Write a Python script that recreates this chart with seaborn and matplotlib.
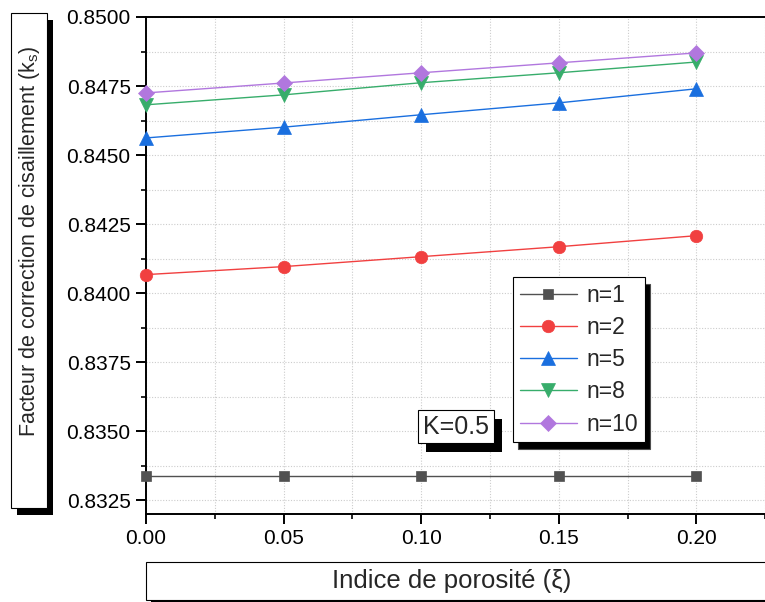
import matplotlib
matplotlib.use("Agg")
import matplotlib.pyplot as plt
from matplotlib.patches import Rectangle
from matplotlib.ticker import MultipleLocator, FormatStrFormatter
import seaborn as sns
import pandas as pd

# ---- data ----
xi = [0.00, 0.05, 0.10, 0.15, 0.20]
ks_n1 = [0.83337, 0.83337, 0.83337, 0.83337, 0.83337]
ks_n2 = [0.84067, 0.84096, 0.84132, 0.84168, 0.84208]
ks_n5 = [0.84562, 0.84601, 0.84646, 0.84689, 0.84740]
ks_n8 = [0.84682, 0.84718, 0.84762, 0.84798, 0.84837]
ks_n10 = [0.84725, 0.84761, 0.84798, 0.84834, 0.84870]
labels = ["n=1", "n=2", "n=5", "n=8", "n=10"]
series = [ks_n1, ks_n2, ks_n5, ks_n8, ks_n10]
colors = ["#515151", "#F14040", "#1A6FDF", "#37AD6B", "#B177DE"]
markers = ["s", "o", "^", "v", "D"]
msizes = [7, 9, 9.5, 9.5, 8]

df = pd.concat([pd.DataFrame({"xi": xi, "ks": s, "n": lab}) for s, lab in zip(series, labels)],
               ignore_index=True)

sns.set_style("white")
plt.rcParams["font.family"] = ["Liberation Sans", "DejaVu Sans"]
plt.rcParams["mathtext.default"] = "regular"

fig = plt.figure(figsize=(7.65, 6.02), dpi=100)
W, H = 765, 602
ax = fig.add_axes([146 / W, (H - 514) / H, (W - 146) / W + 0.002, (514 - 17) / H])

for lab, col, mk, ms in zip(labels, colors, markers, msizes):
    sub = df[df["n"] == lab]
    sns.lineplot(data=sub, x="xi", y="ks", ax=ax, color=col, marker=mk, markersize=ms,
                 markeredgecolor=col, markeredgewidth=0.5, linewidth=1.0, label=lab,
                 clip_on=False, zorder=3)

ax.set_xlim(0, 0.2255)
ax.set_ylim(0.8320, 0.8500)
ax.xaxis.set_major_locator(MultipleLocator(0.05))
ax.xaxis.set_minor_locator(MultipleLocator(0.025))
ax.yaxis.set_major_locator(MultipleLocator(0.0025))
ax.yaxis.set_minor_locator(MultipleLocator(0.00125))
ax.xaxis.set_major_formatter(FormatStrFormatter("%.2f"))
ax.yaxis.set_major_formatter(FormatStrFormatter("%.4f"))
ax.grid(True, which="both", linestyle=(0, (1, 1.5)), color="#cccccc", linewidth=0.8)
ax.tick_params(which="major", direction="out", length=7, width=1.4, labelsize=15, pad=4,
               left=True, bottom=True, colors="black")
ax.tick_params(which="minor", direction="out", length=3.5, width=1.4, left=True, bottom=True)
for sp in ax.spines.values():
    sp.set_linewidth(1.4)
    sp.set_color("black")
ax.set_xlabel("")
ax.set_ylabel("")

# legend with solid black shadow
leg = ax.legend(loc="upper left", bbox_to_anchor=((512 - 146) / (W - 146), (514 - 277) / (514 - 17)),
                frameon=True, fancybox=False, edgecolor="black", framealpha=1,
                fontsize=16.5, handlelength=2.5, handletextpad=0.4, borderpad=0.3,
                labelspacing=0.4, borderaxespad=0,
                shadow={"ox": 4, "oy": -5, "facecolor": "black", "alpha": 1})
leg.get_frame().set_linewidth(0.8)


def boxed(x0, y0, x1, y1, dx, dy, lw=0.8):
    # pixel coords (top-left origin) -> figure fraction
    fig.add_artist(Rectangle(((x0 + dx) / W, (H - y1 - dy) / H), (x1 - x0) / W, (y1 - y0) / H,
                             transform=fig.transFigure, facecolor="black", edgecolor="none",
                             zorder=10))
    fig.add_artist(Rectangle((x0 / W, (H - y1) / H), (x1 - x0) / W, (y1 - y0) / H,
                             transform=fig.transFigure, facecolor="white", edgecolor="black",
                             linewidth=lw, zorder=11))


# y label box
boxed(11, 13, 47, 508, 6, 7)
fig.text(30 / W, 1 - 241 / H, "Facteur de correction de cisaillement (k$_{s}$)", rotation=90,
         ha="center", va="center", fontsize=15.5, zorder=12)
# x label box
boxed(146, 562, 775, 600, 5, 5)
fig.text(452 / W, 1 - 581 / H, "Indice de porosité (ξ)", ha="center", va="center",
         fontsize=18.5, zorder=12)
# K=0.5 box
boxed(418, 410, 494, 443, 8, 9)
fig.text(456 / W, 1 - 427 / H, "K=0.5", ha="center", va="center", fontsize=18, zorder=12)

fig.savefig("out.png", dpi=100)
